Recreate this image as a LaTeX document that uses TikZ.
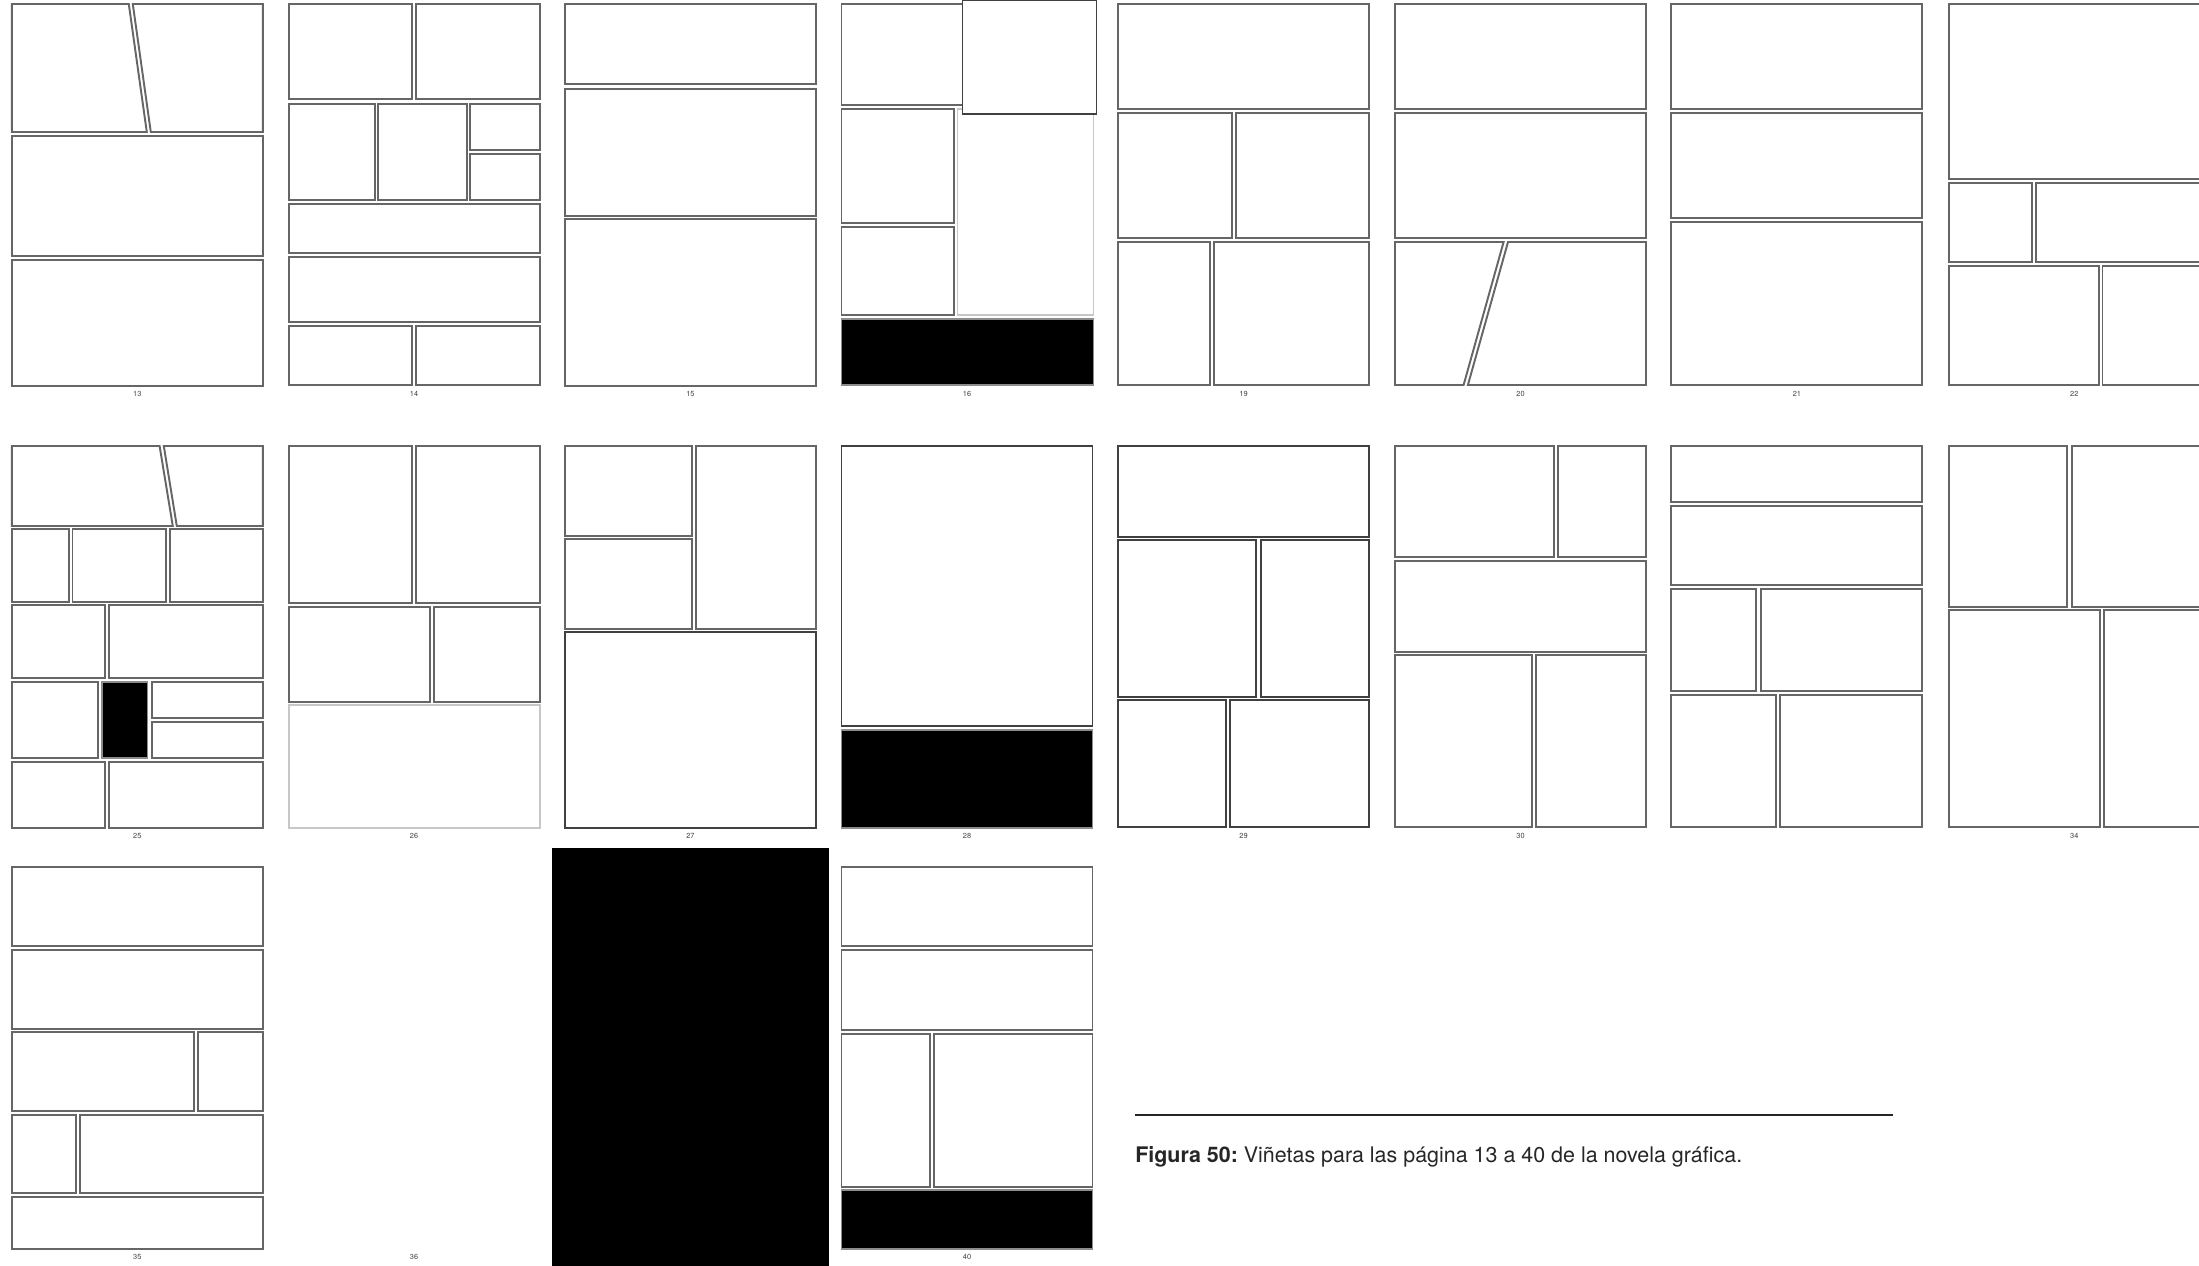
\documentclass[tikz,border=0pt]{standalone}
\usepackage{fontspec}
\setmainfont{TeX Gyre Heros}
\usepackage{tikz}

\tikzset{
  vineta/.style={draw=black!60, line width=0.55pt, fill=white},
  vinetaosc/.style={draw=black!75, line width=0.55pt, fill=white},
  vinetaclara/.style={draw=black!22, line width=0.55pt, fill=white},
  vinetanegra/.style={draw=black!45, line width=0.55pt, fill=black},
  numpag/.style={text=black!75, font=\fontsize{2.1}{2.4}\selectfont, inner sep=0pt},
}

\begin{document}
\begin{tikzpicture}[x=0.01cm, y=-0.01cm]
    \useasboundingbox (0,0) rectangle (2199,1265);

    % 1. FILA SUPERIOR (pags. 13 a 22)
    % pag. 13
    \begin{scope}[shift={(11.8,4)}]
        \draw[vineta] (0,0) -- (117,0) -- (135,128) -- (0,128) -- cycle;
        \draw[vineta] (121,0) -- (251,0) -- (251,128) -- (139,128) -- cycle;
        \foreach \xa/\ya/\xb/\yb in {0/132/251/252, 0/256/251/382}
            \draw[vineta] (\xa,\ya) rectangle (\xb,\yb);
        \node[numpag] (n13) at (125.5,390) {13};
    \end{scope}
    % pag. 14
    \begin{scope}[shift={(288.6,4)}]
        \foreach \xa/\ya/\xb/\yb in {0/0/123/95, 127/0/251/95, 0/100/86/196, 89.5/100/178/196,
            181.5/100/251/146, 181.5/150/251/196, 0/200/251/249, 0/253/251/318,
            0/322/123.5/381, 127.5/322/251/381}
            \draw[vineta] (\xa,\ya) rectangle (\xb,\yb);
        \node[numpag] (n14) at (125.5,390) {14};
    \end{scope}
    % pag. 15
    \begin{scope}[shift={(564.9,4)}]
        \foreach \xa/\ya/\xb/\yb in {0/0/251/80, 0/85/251/212, 0/215/251/382}
            \draw[vineta] (\xa,\ya) rectangle (\xb,\yb);
        \node[numpag] (n15) at (125.5,390) {15};
    \end{scope}
    % pag. 16 (la vineta de arriba sale del margen)
    \begin{scope}[shift={(841.5,4)}]
        \foreach \xa/\ya/\xb/\yb in {0/0/126/101, 0/105/112.6/219, 0/223/112.6/311}
            \draw[vineta] (\xa,\ya) rectangle (\xb,\yb);
        \draw[vinetaclara] (116,105) rectangle (252,311);
        \draw[vinetanegra] (0,315) rectangle (252,381);
        \draw[vinetaosc] (121,-4) rectangle (255,110);
        \node[numpag] (n16) at (125.5,390) {16};
    \end{scope}
    % pag. 19
    \begin{scope}[shift={(1118,4)}]
        \foreach \xa/\ya/\xb/\yb in {0/0/251/105, 0/109/114/234, 118/109/251/234,
            0/238/92/381, 96/238/251/381}
            \draw[vineta] (\xa,\ya) rectangle (\xb,\yb);
        \node[numpag] (n19) at (125.5,390) {19};
    \end{scope}
    % pag. 20
    \begin{scope}[shift={(1395,4)}]
        \foreach \xa/\ya/\xb/\yb in {0/0/251/105, 0/109/251/234}
            \draw[vineta] (\xa,\ya) rectangle (\xb,\yb);
        \draw[vineta] (0,238) -- (108.6,238) -- (68.6,381) -- (0,381) -- cycle;
        \draw[vineta] (113,238) -- (251,238) -- (251,381) -- (72.9,381) -- cycle;
        \node[numpag] (n20) at (125.5,390) {20};
    \end{scope}
    % pag. 21
    \begin{scope}[shift={(1671.4,4)}]
        \foreach \xa/\ya/\xb/\yb in {0/0/251/105, 0/109/251/214, 0/218/251/381}
            \draw[vineta] (\xa,\ya) rectangle (\xb,\yb);
        \node[numpag] (n21) at (125.5,390) {21};
    \end{scope}
    % pag. 22 (cortada por la derecha)
    \begin{scope}[shift={(1948.8,4)}]
        \foreach \xa/\ya/\xb/\yb in {0/0/251/175, 0/179/83/258, 87.6/179/251/258,
            0/262/150/381, 153.7/262/251/381}
            \draw[vineta] (\xa,\ya) rectangle (\xb,\yb);
        \node[numpag] (n22) at (125.5,390) {22};
    \end{scope}

    % 2. FILA CENTRAL (pags. 25 a 34)
    % pag. 25
    \begin{scope}[shift={(11.8,446)}]
        \draw[vineta] (0,0) -- (147.8,0) -- (161,80) -- (0,80) -- cycle;
        \draw[vineta] (152,0) -- (251,0) -- (251,80) -- (165,80) -- cycle;
        \foreach \xa/\ya/\xb/\yb in {0/83/56.8/156, 60.7/83/154/156, 157.8/83/251/156,
            0/159/93.6/232, 97.2/159/251/232, 0/236/86/312, 140/236/251/272,
            140/276/251/312, 0/316/93.6/382, 97.2/316/251/382}
            \draw[vineta] (\xa,\ya) rectangle (\xb,\yb);
        \draw[vinetanegra] (90,236) rectangle (135.7,312);
        \node[numpag] (n25) at (125.5,390) {25};
    \end{scope}
    % pag. 26
    \begin{scope}[shift={(288.6,446)}]
        \foreach \xa/\ya/\xb/\yb in {0/0/123.5/157, 127.5/0/251/157, 0/161/141.8/256, 145/161/251/256}
            \draw[vineta] (\xa,\ya) rectangle (\xb,\yb);
        \draw[vinetaclara] (0,259) rectangle (251,382);
        \node[numpag] (n26) at (125.5,390) {26};
    \end{scope}
    % pag. 27
    \begin{scope}[shift={(564.9,446)}]
        \foreach \xa/\ya/\xb/\yb in {0/0/127/90, 0/93/127/183, 131.4/0/251/183}
            \draw[vineta] (\xa,\ya) rectangle (\xb,\yb);
        \draw[vinetaosc] (0,186) rectangle (251,382);
        \node[numpag] (n27) at (125.5,390) {27};
    \end{scope}
    % pag. 28
    \begin{scope}[shift={(841.5,446)}]
        \draw[vinetaosc] (0,0) rectangle (251,280);
        \draw[vinetanegra] (0,284) rectangle (251,382);
        \node[numpag] (n28) at (125.5,390) {28};
    \end{scope}
    % pag. 29
    \begin{scope}[shift={(1118,446)}]
        \foreach \xa/\ya/\xb/\yb in {0/0/251/91, 0/94/138.4/251, 143.4/94/251/251,
            0/254/107.7/381, 111.6/254/251/381}
            \draw[vinetaosc] (\xa,\ya) rectangle (\xb,\yb);
        \node[numpag] (n29) at (125.5,390) {29};
    \end{scope}
    % pag. 30
    \begin{scope}[shift={(1395,446)}]
        \foreach \xa/\ya/\xb/\yb in {0/0/159/111, 162.8/0/251/111, 0/115/251/206,
            0/209/137/381, 141/209/251/381}
            \draw[vineta] (\xa,\ya) rectangle (\xb,\yb);
        \node[numpag] (n30) at (125.5,390) {30};
    \end{scope}
    % pag. sin numero
    \begin{scope}[shift={(1671.4,446)}]
        \foreach \xa/\ya/\xb/\yb in {0/0/251/56, 0/60/251/139, 0/143/85/245, 89.3/143/251/245,
            0/249/104.3/381, 108.6/249/251/381}
            \draw[vineta] (\xa,\ya) rectangle (\xb,\yb);
    \end{scope}
    % pag. 34
    \begin{scope}[shift={(1948.8,446)}]
        \foreach \xa/\ya/\xb/\yb in {0/0/118.5/161, 122.8/0/251/161, 0/164/151/381, 155.3/164/251/381}
            \draw[vineta] (\xa,\ya) rectangle (\xb,\yb);
        \node[numpag] (n34) at (125.5,390) {34};
    \end{scope}

    % 3. FILA INFERIOR (pags. 35 a 40)
    % pag. 35
    \begin{scope}[shift={(11.8,867)}]
        \foreach \xa/\ya/\xb/\yb in {0/0/251/79, 0/83/251/162, 0/165/182.5/244, 186.4/165/251/244,
            0/248/64.2/326, 68.2/248/251/326, 0/330/251/382}
            \draw[vineta] (\xa,\ya) rectangle (\xb,\yb);
        \node[numpag] (n35) at (125.5,390) {35};
    \end{scope}
    % pag. 36 (en blanco)
    \node[numpag] (n36) at (414.1,1257) {36};
    % pag. 37 (negra, a sangre)
    \fill[black] (551.5,848) rectangle (828.6,1270);
    % pag. 40
    \begin{scope}[shift={(841.5,867)}]
        \foreach \xa/\ya/\xb/\yb in {0/0/251/79, 0/83/251/163, 0/167/88.2/320, 92.2/167/251/320}
            \draw[vineta] (\xa,\ya) rectangle (\xb,\yb);
        \draw[vinetanegra] (0,323) rectangle (251,382);
        \node[numpag] (n40) at (125.5,390) {40};
    \end{scope}

    % 4. PIE DE FIGURA
    \coordinate (lineaA) at (1134.6,1115);
    \coordinate (lineaB) at (1893.3,1115);
    \draw[line width=0.75pt, black!85] (lineaA) -- (lineaB);
    \node[anchor=west, inner sep=0pt, text=black!85, font=\fontsize{6.1}{7.3}\selectfont]
        (pie) at (1134.6,1157) {\textbf{Figura 50:}~Viñetas para las página 13 a 40 de la novela gráfica.};

\end{tikzpicture}
\end{document}
